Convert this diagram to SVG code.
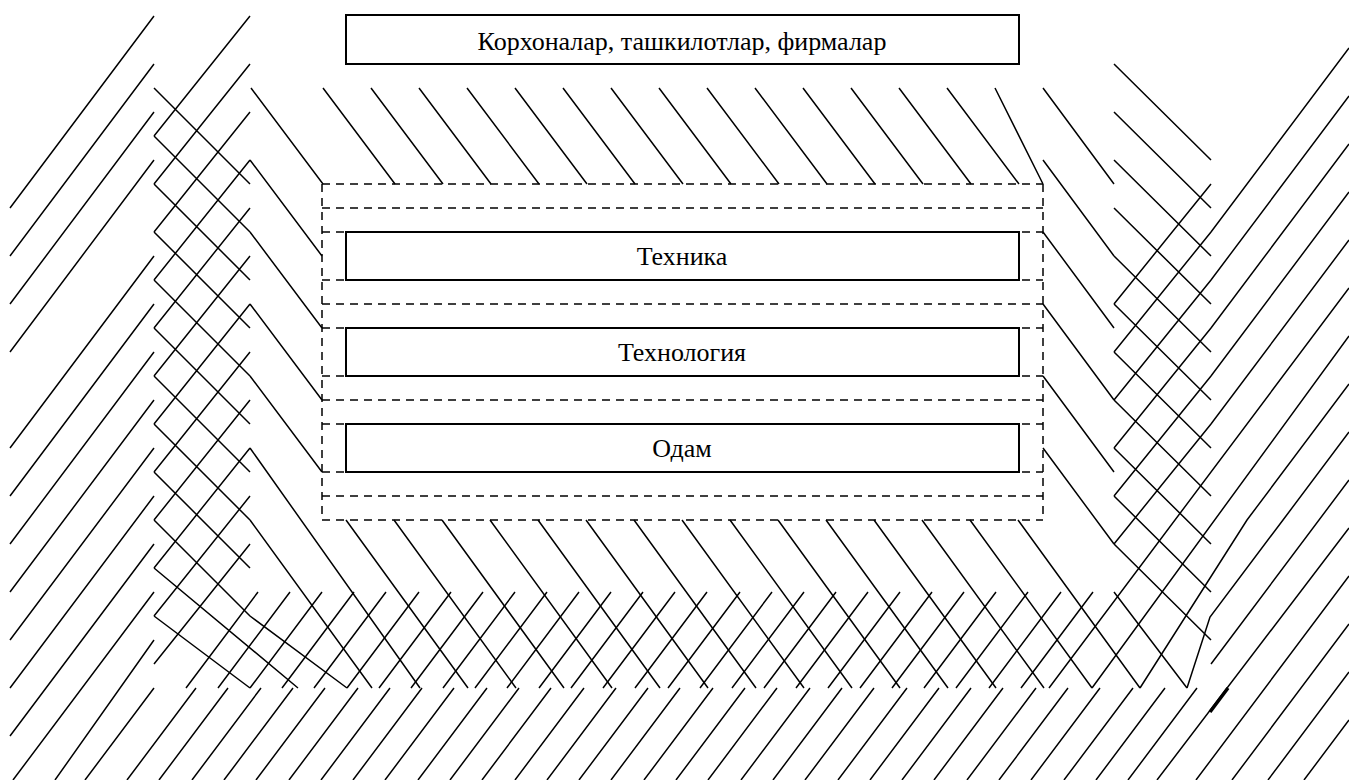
<svg xmlns="http://www.w3.org/2000/svg" width="1349" height="780" viewBox="0 0 1349 780">
<style>
.h{stroke:#000;stroke-width:1.5;fill:none;stroke-linecap:butt}
.d{stroke:#000;stroke-width:1.5;fill:none;stroke-dasharray:8 6}
.b{stroke:#000;stroke-width:2;fill:#fff}
.t{font-family:"Liberation Serif","Times New Roman",serif;font-size:26px;text-anchor:middle;fill:#000}
</style>
<rect width="1349" height="780" fill="#fff"/>
<g id="hatching" class="h">
<path id="far-left" d="M154 16L10 208M154 64L10 256M154 112L10 304M154 160L10 352M154 256L10 448M154 304L10 496M154 352L10 544M154 400L10 592M154 448L10 640M154 496L10 688M154 544L10 736M154 592L13 780M154 640L55 780M154 688L85 780"/>
<path id="left-zigzag" d="M154 88L250 184M154 136L250 232M154 184L250 280M154 232L250 328M154 280L250 376M154 328L250 424M154 376L250 472M154 424L250 520M154 472L250 568M154 136L250 16M154 184L250 64M154 232L250 112M154 280L250 160M154 328L250 208M154 376L250 256M154 424L250 304M154 472L250 352M154 520L250 400M154 568L250 448M154 616L250 496M154 664L250 544M154 520L250 616L347 688M154 568L298 688M154 616L250 688"/>
<path id="left-mid" d="M251 88L323 184M250 160L322 256M250 232L322 328M250 304L322 400M250 376L322 472M250 448L420 688M250 520L372 688"/>
<path id="top-hatch" d="M323 88L395 184M371 88L443 184M419 88L491 184M467 88L539 184M515 88L587 184M563 88L635 184M611 88L683 184M659 88L731 184M707 88L779 184M755 88L827 184M803 88L875 184M851 88L923 184M899 88L971 184M947 88L1019 184M995 88L1043 184"/>
<path id="right-mid" d="M1043 88L1114 184M1043 160L1114 256M1043 232L1114 328M1043 304L1114 400M1043 376L1114 472M1043 448L1114 544"/>
<path id="right-zigzag" d="M1114 64L1211 160M1114 112L1211 208M1114 160L1211 256M1114 208L1211 304M1114 256L1211 352M1114 304L1211 400M1114 352L1211 448M1114 400L1211 496M1114 448L1211 544M1114 496L1211 592M1114 544L1211 640M1114 304L1211 184M1114 352L1211 232L1349 48M1114 400L1211 280L1349 96M1114 448L1211 328L1349 144M1114 496L1211 376L1349 192M1114 544L1211 424L1349 240M1114 592L1187 688"/>
<path id="far-right" d="M1349 288L1049 688M1349 336L1092 688M1349 384L1247 520L1140 688M1349 432L1283 520L1210 617L1187 688M1349 480L1211 664M1349 528L1157 780M1349 576L1196 780M1349 624L1232 780M1349 672L1268 780M1349 720L1304 780"/>
<path id="bottom-down" d="M346 520L468 688M394 520L516 688M442 520L564 688M490 520L612 688M538 520L660 688M586 520L708 688M634 520L756 688M682 520L804 688M730 520L852 688M778 520L900 688M826 520L948 688M874 520L996 688M922 520L1044 688M970 520L1092 688M1018 520L1140 688"/>
<path id="mid-band" d="M258 592L186 688M290 592L218 688M322 592L250 688M354 592L282 688M386 592L314 688M419 592L347 688M451 592L379 688M483 592L411 688M515 592L443 688M547 592L475 688M579 592L507 688M611 592L539 688M643 592L571 688M675 592L603 688M707 592L635 688M740 592L668 688M772 592L700 688M804 592L732 688M836 592L764 688M868 592L796 688M900 592L828 688M932 592L860 688M964 592L892 688M996 592L924 688M1028 592L956 688M1061 592L989 688M1093 592L1021 688"/>
<path id="bottom-band" d="M196 688L127 780M228 688L159 780M261 688L192 780M293 688L224 780M325 688L256 780M358 688L289 780M390 688L321 780M422 688L353 780M454 688L385 780M487 688L418 780M519 688L450 780M551 688L482 780M584 688L515 780M616 688L547 780M648 688L579 780M680 688L611 780M713 688L644 780M745 688L676 780M777 688L708 780M810 688L741 780M842 688L773 780M874 688L805 780M907 688L838 780M939 688L870 780M971 688L902 780M1003 688L934 780M1036 688L967 780M1068 688L999 780M1100 688L1031 780M1133 688L1064 780M1165 688L1096 780M1197 688L1128 780"/>
<path d="M1228 688L1210 712" style="stroke-width:3.5"/>
</g>
<g id="frame" class="d">
<path d="M322 184H1043M322 208H1043M322 232H1043M322 280H1043M322 304H1043M322 328H1043M322 376H1043M322 400H1043M322 424H1043M322 472H1043M322 496H1043M322 520H1043M322 184V520M1043 184V520"/>
</g>
<g id="node-firms"><rect class="b" x="346" y="15" width="673" height="49"/><text class="t" x="682" y="50">Корхоналар, ташкилотлар, фирмалар</text></g>
<g id="node-technika"><rect class="b" x="346" y="232" width="673" height="48"/><text class="t" x="682" y="265">Техника</text></g>
<g id="node-technology"><rect class="b" x="346" y="328" width="673" height="48"/><text class="t" x="682" y="361">Технология</text></g>
<g id="node-odam"><rect class="b" x="346" y="424" width="673" height="48"/><text class="t" x="682" y="457">Одам</text></g>
</svg>
